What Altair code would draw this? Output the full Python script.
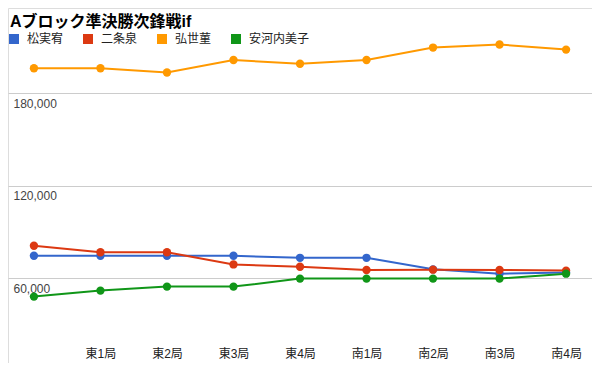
import altair as alt
import pandas as pd

rounds = ["", "東1局", "東2局", "東3局", "東4局", "南1局", "南2局", "南3局", "南4局"]
players = ["松実宥", "二条泉", "弘世菫", "安河内美子"]
colors = ["#3366cc", "#dc3912", "#ff9900", "#109618"]
matsumi = [74600, 74600, 74600, 74600, 73300, 73300, 65800, 63000, 63800]
nijou = [81100, 76900, 76900, 69000, 67500, 65400, 65600, 65400, 65000]
hirose = [196400, 196400, 193600, 201700, 199300, 201700, 209800, 211800, 208500]
yasukouchi = [48100, 52000, 54600, 54600, 59800, 59800, 59800, 59800, 63000]
y_ticks = [60000, 120000, 180000]
title_text = "Aブロック準決勝次鋒戦if"

FONT = "Liberation Sans, Noto Sans CJK JP"

series = [matsumi, nijou, hirose, yasukouchi]
rows = []
for name, vals in zip(players, series):
    for r, v in zip(rounds, vals):
        rows.append({"round": r, "player": name, "score": v})
df = pd.DataFrame(rows)

x_enc = alt.X(
    "round:N",
    sort=rounds,
    scale=alt.Scale(type="point", padding=0.39),
    axis=alt.Axis(
        title=None, labelAngle=0, ticks=False, tickSize=0, grid=False,
        gridOpacity=0, domain=True, domainColor="#333333", domainWidth=1,
        labelPadding=-3, labelBaseline="bottom", labelFontSize=12,
        labelColor="#222222", labelFont=FONT,
    ),
)
y_enc = alt.Y(
    "score:Q",
    scale=alt.Scale(domain=[5000, 235500], nice=False, zero=False),
    axis=alt.Axis(
        title=None, values=y_ticks, format=",.0f", ticks=False, tickSize=0,
        domain=False, domainOpacity=0, domainColor="#ffffff", grid=True,
        gridColor="#cccccc", gridWidth=1, labelAlign="left",
        labelBaseline="top", labelPadding=-5, labelOffset=5,
        labelFontSize=12, labelColor="#444444", labelFont=FONT,
        minExtent=0,
    ),
)
color_scale = alt.Scale(domain=players, range=colors)
legend = alt.Legend(
    title=None, orient="none", legendX=0, legendY=25,
    direction="horizontal", symbolType="square", symbolSize=100,
    symbolStrokeWidth=0, symbolOpacity=1, labelFontSize=12,
    labelColor="#222222", labelFont=FONT, labelOffset=7,
    columnPadding=18, padding=0,
)

lines = alt.Chart(df).mark_line(strokeWidth=2).encode(
    x=x_enc, y=y_enc,
    color=alt.Color("player:N", scale=color_scale, legend=legend),
    detail="player:N",
)
points = alt.Chart(df).mark_circle(size=70, opacity=1).encode(
    x=x_enc, y=y_enc,
    color=alt.Color("player:N", scale=color_scale, legend=legend),
)

chart = alt.layer(lines, points).properties(
    width=584, height=355, padding=0,
    title=alt.TitleParams(
        text=title_text, anchor="start", fontSize=16, fontWeight="bold",
        color="#000000", font=FONT, offset=-18, dx=2, dy=4,
    ),
).configure_view(stroke="transparent", strokeWidth=0).configure(
    font=FONT, background="white"
)

chart.save("out.html", embed_options={"renderer": "svg", "actions": False})
